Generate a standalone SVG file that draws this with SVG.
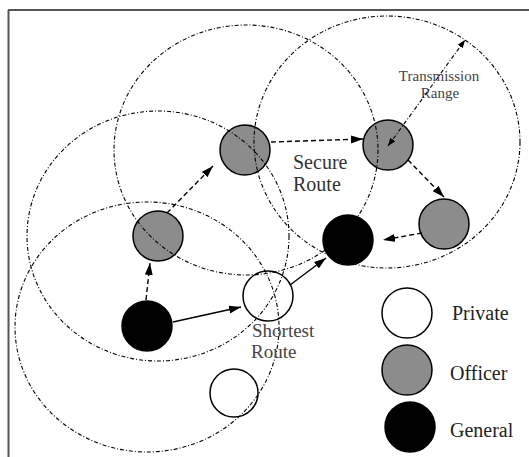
<svg xmlns="http://www.w3.org/2000/svg" width="529" height="457" viewBox="0 0 529 457">
<defs>
<style>
.node{stroke:#000;stroke-width:1.5}
.private{fill:#fff}
.officer{fill:#8c8c8c}
.general{fill:#000}
.range{fill:none;stroke:#000;stroke-width:1.1;stroke-dasharray:4 2 1 2}
.dash{fill:none;stroke:#000;stroke-width:1.4;stroke-dasharray:5 3}
.solid{fill:none;stroke:#000;stroke-width:1.4}
.lbl{font-family:"Liberation Serif","Times New Roman",serif;font-size:20px;fill:#333}
.lbl2{font-family:"Liberation Serif","Times New Roman",serif;font-size:19px;fill:#444}
.small{font-family:"Liberation Serif","Times New Roman",serif;font-size:15px;fill:#444}
.legend{font-family:"Liberation Serif","Times New Roman",serif;font-size:20px;fill:#222}
</style>
<marker id="ah" markerUnits="userSpaceOnUse" markerWidth="14" markerHeight="10" refX="12" refY="4" orient="auto">
<path d="M0,0 L12,4 L0,8 z" fill="#000"/>
</marker>
<marker id="ahs" markerUnits="userSpaceOnUse" markerWidth="10" markerHeight="8" refX="8" refY="3" orient="auto-start-reverse">
<path d="M0,0 L8,3 L0,6 z" fill="#000"/>
</marker>
</defs>
<rect width="529" height="457" fill="#fff"/>
<g id="frame" fill="none" stroke="#555" stroke-width="2">
<line x1="8" y1="10" x2="529" y2="10"/>
<line x1="8.5" y1="10" x2="8.5" y2="457"/>
</g>
<g id="n-officer-2"><circle class="node officer" cx="245" cy="150" r="25"/></g>
<g id="n-officer-3"><circle class="node officer" cx="388" cy="145" r="25"/></g>
<g id="n-officer-4"><circle class="node officer" cx="444" cy="224" r="25"/></g>
<g id="n-general-2"><circle class="node general" cx="348" cy="240" r="25"/></g>
<g id="n-officer-1"><circle class="node officer" cx="158" cy="236" r="25"/></g>
<g id="n-general-1"><circle class="node general" cx="147" cy="326" r="25"/></g>
<g id="n-private-1"><circle class="node private" cx="268" cy="296" r="25"/></g>
<g id="n-private-2"><circle class="node private" cx="234" cy="393" r="24"/></g>
<g id="ranges">
<ellipse class="range" cx="387" cy="142" rx="133" ry="126"/>
<ellipse class="range" cx="246" cy="150" rx="132" ry="125"/>
<ellipse class="range" cx="158" cy="236" rx="131" ry="125"/>
<ellipse class="range" cx="147" cy="327" rx="132" ry="125"/>
</g>
<g id="labels">
<text class="small" x="439" y="81" text-anchor="middle">Transmission</text>
<text class="small" x="440" y="98" text-anchor="middle">Range</text>
<text class="lbl" x="293" y="169">Secure</text>
<text class="lbl" x="293" y="191">Route</text>
<text class="lbl2" x="252" y="337">Shortest</text>
<text class="lbl2" x="251" y="358">Route</text>
</g>
<g id="legend">
<g id="legend-private"><circle class="node private" cx="407" cy="313" r="25"/><text class="legend" x="452" y="320">Private</text></g>
<g id="legend-officer"><circle class="node officer" cx="407" cy="370" r="25"/><text class="legend" x="450" y="380">Officer</text></g>
<g id="legend-general"><circle class="node general" cx="410" cy="427" r="25"/><text class="legend" x="450" y="437">General</text></g>
</g>
<g id="connectors">
<line class="dash" x1="146" y1="300" x2="150" y2="263" marker-end="url(#ah)"/>
<line class="dash" x1="167" y1="213" x2="213" y2="166" marker-end="url(#ah)"/>
<line class="dash" x1="271" y1="142" x2="363" y2="139" marker-end="url(#ah)"/>
<line class="dash" x1="408" y1="160" x2="444" y2="197" marker-end="url(#ah)"/>
<line class="dash" x1="422" y1="233" x2="383" y2="240" marker-end="url(#ah)"/>
<line class="solid" x1="173" y1="322" x2="241" y2="307" marker-end="url(#ah)"/>
<line class="solid" x1="290" y1="285" x2="326" y2="258" marker-end="url(#ah)"/>
<line class="range" x1="388" y1="146" x2="465" y2="40" stroke-width="1.3" marker-start="url(#ahs)" marker-end="url(#ahs)"/>
</g>
</svg>
